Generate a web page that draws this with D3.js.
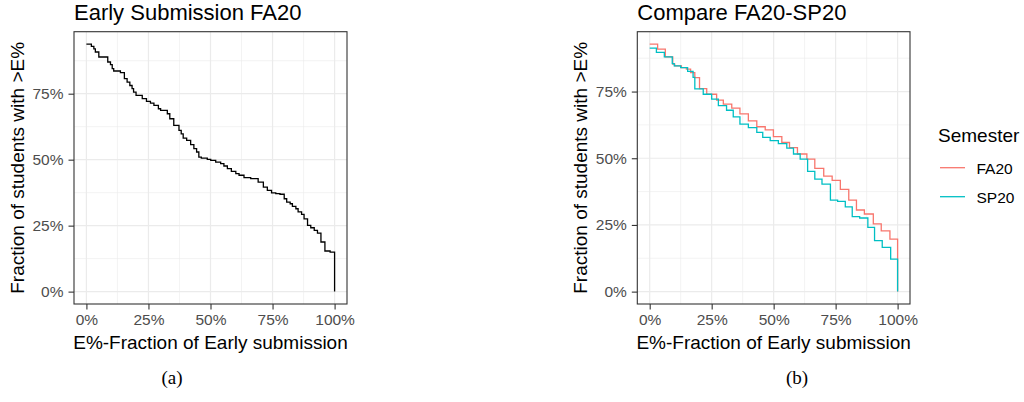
<!DOCTYPE html>
<html>
<head>
<meta charset="utf-8">
<script src="https://cdn.jsdelivr.net/npm/d3@7"></script>
<style>
  html, body { margin: 0; padding: 0; background: #fff; }
  svg { display: block; }
  text { font-family: "Liberation Sans", Arial, sans-serif; }
</style>
</head>
<body>
<svg id="chart" width="1024" height="402"></svg>
<script>
// ---------- data (x = E% early submission, y = % of students with > E%) ----------
const earlyFA20 = [
  [0, 93.8], [2, 92.9], [3, 92.0], [3.6, 90.8], [5, 88.9], [8.6, 87.0], [9.7, 86.0],
  [10.4, 84.5], [11, 83.6], [13.7, 83.0], [15.3, 80.7], [16.4, 79.4], [17.5, 78.1],
  [18.4, 76.9], [19, 75.6], [20, 74.4], [22.5, 73.1], [24.2, 72.1], [25.8, 71.4],
  [27.2, 70.6], [29, 69.3], [29.9, 68.7], [32.6, 67.4], [33.6, 65.5], [35.2, 63.0],
  [37.3, 61.1], [38.2, 59.8], [39.0, 58.2], [40.4, 57.3], [42, 55.7], [43.3, 54.2],
  [44.4, 52.9], [45.3, 51.0], [46.3, 50.6], [48.7, 50.1], [50.1, 49.7], [52.1, 49.1],
  [54.1, 48.5], [55.4, 47.6], [56.8, 46.6], [58.4, 45.6], [60.2, 44.7], [61.5, 44.1],
  [63.5, 43.2], [66.2, 42.8], [69.2, 41.5], [71.3, 39.6], [72.9, 38.4], [74.6, 37.4],
  [76.3, 37.1], [78, 36.9], [79.7, 35.2], [80.7, 33.9], [82.1, 33.3], [83, 32.3],
  [84.4, 31.4], [85.3, 30.2], [86.7, 29.3], [87.7, 27.6], [89.1, 25.1], [90.4, 24.2],
  [91.8, 23.2], [93.1, 22.2], [94.5, 18.8], [96.1, 15.4], [98.2, 15.0], [100, 0]
];
const compareFA20 = [
  [0, 92.8], [3.2, 90.9], [6.3, 88.0], [9.3, 85.3], [10.1, 84.6], [12.8, 84.0],
  [14.8, 83.4], [16.5, 82.1], [18.2, 80.2], [20.1, 76.1], [23, 74.0], [27, 71.8],
  [29.7, 70.3], [33.1, 68.8], [36.4, 66.6], [39.8, 64.0], [43.2, 61.8], [46.6, 60.6],
  [49.9, 58.1], [53.3, 55.9], [56.4, 54.0], [59.6, 51.6], [63.4, 49.7], [66.6, 46.2],
  [70.2, 43.3], [73.6, 41.7], [76.9, 38.3], [80.3, 34.3], [83.4, 30.6], [86.6, 29.1],
  [90.2, 25.4], [93.4, 22.8], [96.9, 19.7], [100, 0]
];
const compareSP20 = [
  [0, 91.3], [2.7, 89.7], [5.9, 88.0], [9.1, 85.5], [9.9, 84.6], [12.5, 84.0],
  [15.3, 82.6], [17.5, 80.3], [18.2, 76.0], [21.6, 74.0], [25, 72.2], [27.7, 69.7],
  [31, 68.0], [33.7, 65.5], [36.4, 62.8], [39.8, 61.5], [43.2, 59.7], [45.6, 57.8],
  [48.6, 56.6], [51.9, 55.5], [55.3, 53.8], [58, 51.6], [60.7, 49.7], [63.7, 45.1],
  [66.6, 42.2], [69.5, 40.3], [72.9, 34.3], [75.8, 33.8], [78.9, 31.8], [81.7, 28.1],
  [84.7, 27.6], [88, 24.1], [90.7, 19.1], [93.8, 16.6], [97.2, 12.2], [100, 0]
];
const majorTicks = [0, 25, 50, 75, 100];
const yMajorTicks = [0, 25, 50, 75];
const minorTicks = [12.5, 37.5, 62.5, 87.5];
const semesters = ["FA20", "SP20"];
const semesterColors = ["#F8766D", "#00BFC4"];
const titles = ["Early Submission FA20", "Compare FA20-SP20"];
const xTitle = "E%-Fraction of Early submission";
const yTitle = "Fraction of students with >E%";
const captions = ["(a)", "(b)"];

// ---------- drawing ----------
const svg = d3.select("#chart");
const fmt = d => d + "%";

function panel(opts) {
  const { left, right, top, bottom, series, colors, title, caption, captionX } = opts;
  const ymax = d3.max(series.flat(), d => d[1]);
  const x = d3.scaleLinear().domain([-5, 105]).range([left, right]);
  const y = d3.scaleLinear().domain([-0.05 * ymax, ymax * 1.05]).range([bottom, top]);
  const g = svg.append("g");

  // grid
  const grid = g.append("g");
  grid.selectAll(".vmin").data(minorTicks).join("line")
    .attr("x1", d => x(d)).attr("x2", d => x(d)).attr("y1", top).attr("y2", bottom)
    .attr("stroke", "#EBEBEB").attr("stroke-width", 0.6);
  grid.selectAll(".hmin").data(minorTicks.filter(t => t < ymax * 1.05)).join("line")
    .attr("x1", left).attr("x2", right).attr("y1", d => y(d)).attr("y2", d => y(d))
    .attr("stroke", "#EBEBEB").attr("stroke-width", 0.6);
  grid.selectAll(".vmaj").data(majorTicks).join("line")
    .attr("x1", d => x(d)).attr("x2", d => x(d)).attr("y1", top).attr("y2", bottom)
    .attr("stroke", "#EBEBEB").attr("stroke-width", 1.2);
  grid.selectAll(".hmaj").data(yMajorTicks).join("line")
    .attr("x1", left).attr("x2", right).attr("y1", d => y(d)).attr("y2", d => y(d))
    .attr("stroke", "#EBEBEB").attr("stroke-width", 1.2);

  // lines
  const line = d3.line().x(d => x(d[0])).y(d => y(d[1])).curve(d3.curveStepAfter);
  series.forEach((s, i) => {
    g.append("path").datum(s).attr("d", line)
      .attr("fill", "none").attr("stroke", colors[i]).attr("stroke-width", 1.3);
  });

  // border
  g.append("rect").attr("x", left).attr("y", top)
    .attr("width", right - left).attr("height", bottom - top)
    .attr("fill", "none").attr("stroke", "#333333").attr("stroke-width", 1.1);

  // axes
  const xa = g.append("g").attr("transform", `translate(0,${bottom})`)
    .call(d3.axisBottom(x).tickValues(majorTicks).tickFormat(fmt).tickSize(5.5).tickPadding(4));
  const ya = g.append("g").attr("transform", `translate(${left},0)`)
    .call(d3.axisLeft(y).tickValues(yMajorTicks).tickFormat(fmt).tickSize(5.5).tickPadding(5));
  [xa, ya].forEach(a => {
    a.select(".domain").remove();
    a.selectAll(".tick line").attr("stroke", "#333333").attr("stroke-width", 1.1);
    a.selectAll(".tick text").attr("fill", "#4D4D4D").style("font-size", "15.5px")
      .style("font-family", "'Liberation Sans', Arial, sans-serif");
  });

  // titles
  g.append("text").attr("x", left).attr("y", 20).text(title)
    .attr("fill", "#000").style("font-size", "22px");
  g.append("text").attr("x", (left + right) / 2).attr("y", 348.5).attr("text-anchor", "middle")
    .text(xTitle).attr("fill", "#000").style("font-size", "19px");
  g.append("text").attr("transform", `translate(${left - 50},${(top + bottom) / 2}) rotate(-90)`)
    .attr("text-anchor", "middle").text(yTitle).attr("fill", "#000").style("font-size", "19px");

  // caption
  g.append("text").attr("x", captionX).attr("y", 384).attr("text-anchor", "middle")
    .text(caption).attr("fill", "#000")
    .style("font-family", "'Liberation Serif', 'DejaVu Serif', serif").style("font-size", "19px");
}

panel({ left: 74, right: 347, top: 31.7, bottom: 304, series: [earlyFA20], colors: ["#000000"],
        title: titles[0], caption: captions[0], captionX: 172 });
panel({ left: 637.3, right: 910, top: 31.7, bottom: 304, series: [compareFA20, compareSP20],
        colors: semesterColors, title: titles[1], caption: captions[1], captionX: 797 });

// legend
const lg = svg.append("g");
lg.append("text").attr("x", 938).attr("y", 141.5).text("Semester")
  .attr("fill", "#000").style("font-size", "19px");
semesters.forEach((s, i) => {
  const cy = 167.7 + i * 29;
  lg.append("line").attr("x1", 940).attr("x2", 965).attr("y1", cy).attr("y2", cy)
    .attr("stroke", semesterColors[i]).attr("stroke-width", 1.3);
  lg.append("text").attr("x", 976.5).attr("y", cy + 5.8).text(s)
    .attr("fill", "#000").style("font-size", "15.5px");
});
</script>
</body>
</html>
